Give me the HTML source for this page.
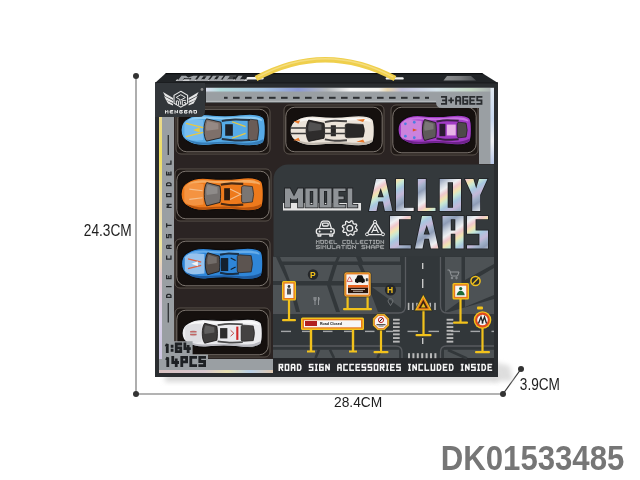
<!DOCTYPE html>
<html><head><meta charset="utf-8">
<style>
html,body{margin:0;padding:0;background:#fff;width:640px;height:480px;overflow:hidden}
svg{display:block;will-change:transform}
text{font-family:"Liberation Sans",sans-serif}
</style></head><body>
<svg width="640" height="480" viewBox="0 0 640 480">
<defs>
  <linearGradient id="holo" x1="0" y1="0" x2="1" y2="1">
    <stop offset="0" stop-color="#c9d3dc"/>
    <stop offset="0.25" stop-color="#e8c6d0"/>
    <stop offset="0.45" stop-color="#b8d6e6"/>
    <stop offset="0.65" stop-color="#eadfb8"/>
    <stop offset="0.85" stop-color="#a9c4d8"/>
    <stop offset="1" stop-color="#d8c8e0"/>
  </linearGradient>
  <linearGradient id="holoV" x1="0" y1="0" x2="0" y2="1">
    <stop offset="0" stop-color="#e8e0a0"/>
    <stop offset="0.3" stop-color="#e8c0c8"/>
    <stop offset="0.6" stop-color="#c0d8e8"/>
    <stop offset="1" stop-color="#e0c8b0"/>
  </linearGradient>
  <linearGradient id="shadowR" x1="0" y1="0" x2="1" y2="0">
    <stop offset="0" stop-color="#d8d8d8"/>
    <stop offset="1" stop-color="#ffffff"/>
  </linearGradient>
  <linearGradient id="shadowB" x1="0" y1="0" x2="0" y2="1">
    <stop offset="0" stop-color="#dcdcdc"/>
    <stop offset="1" stop-color="#ffffff"/>
  </linearGradient>
</defs>

<!-- dimension lines -->
<g stroke="#9a9a9a" stroke-width="1.6" fill="none">
  <line x1="136" y1="76" x2="136" y2="394"/>
  <line x1="136" y1="394" x2="503" y2="394"/>
</g>
<line x1="503" y1="394" x2="521" y2="369" stroke="#333" stroke-width="1.2"/>
<g fill="#333">
  <circle cx="136" cy="76" r="3"/>
  <circle cx="136" cy="394" r="3"/>
  <circle cx="503" cy="394" r="3"/>
  <circle cx="521" cy="369" r="3"/>
</g>
<g fill="#1e1e1e">
  <text x="83.8" y="235.5" font-size="15.6" textLength="48" lengthAdjust="spacingAndGlyphs">24.3CM</text>
  <text x="334" y="407.3" font-size="15" textLength="48.2" lengthAdjust="spacingAndGlyphs">28.4CM</text>
  <text x="519.8" y="390.2" font-size="15.6" textLength="40.2" lengthAdjust="spacingAndGlyphs">3.9CM</text>
</g>
<text x="440.8" y="469.6" font-size="35.2" font-weight="bold" fill="#767676" textLength="183.5" lengthAdjust="spacingAndGlyphs">DK01533485</text>

<!-- shadow -->
<filter id="blur3" x="-50%" y="-50%" width="200%" height="200%"><feGaussianBlur stdDeviation="2.5"/></filter>
<polygon points="494,362 510,366 513,381 494,381" fill="#dedede" filter="url(#blur3)"/>
<rect x="165" y="374" width="333" height="8" fill="#d8d8d8" filter="url(#blur3)"/>

<!-- lid -->
<polygon points="155,83 166,73 482,73 498,83" fill="#212427"/><polygon points="165,74.2 166.2,73 481.8,73 483.7,74.2" fill="#0c0e10"/>
<!-- front frame -->
<rect x="155" y="83" width="343" height="294" fill="#2a2d30"/><rect x="155" y="82.3" width="343" height="1.2" fill="#1a1c1e"/>

<!-- lid text + handle -->
<g transform="matrix(0.91 0 -0.18 0.235 -44.02 31.43)"><rect x="283" y="203" width="78" height="7.5" fill="#d0d2d4"/><path d="M285.00 188.40h5.00v19.00h-5.00ZM298.00 188.40h5.00v19.00h-5.00ZM285.00 188.40L290.00 188.40L294.00 196.38L298.00 188.40L303.00 188.40L303.00 191.00L296.50 199.42L291.50 199.42L285.00 191.00ZM305.40 188.40h12.20v19.00h-12.20ZM309.80 191.00v13.80h3.40v-13.80ZM319.60 188.40h11.90v19.00h-11.90ZM324.00 191.00v13.80h3.10v-13.80ZM333.30 188.40h5.20v19.00h-5.20ZM333.30 188.40h12.20v2.60h-12.20ZM333.30 196.60h10.37v2.60h-10.37ZM333.30 204.80h12.20v2.60h-12.20ZM347.70 188.40h4.60v19.00h-4.60ZM347.70 204.80h9.70v2.60h-9.70Z" fill="#9ea2a6" stroke="#202225" stroke-width="1.2" paint-order="stroke"/></g>
<rect x="246.6" y="77" width="17" height="2.4" rx="1.2" fill="#f4f4f4"/>
<rect x="385.7" y="77.2" width="18" height="2.4" rx="1.2" fill="#f4f4f4"/>
<linearGradient id="lidTab" x1="443" y1="0" x2="476" y2="0" gradientUnits="userSpaceOnUse"><stop offset="0" stop-color="#8e9092"/><stop offset="0.5" stop-color="#7a7c7e"/><stop offset="1" stop-color="#4e5154"/></linearGradient><polygon points="447,76 471,76 476,80.5 443.5,80.5" fill="url(#lidTab)"/>
<path d="M256 78.5 Q 325 41 395 78.5" stroke="#efcf4c" stroke-width="5.6" fill="none"/><path d="M258 77 Q 325 40.5 393 77" stroke="#f6e08a" stroke-width="1.4" fill="none" opacity="0.8"/>

<!-- tray -->
<rect x="174" y="103" width="320" height="256" fill="#2b2423"/>
<rect x="176" y="107" width="94" height="47" rx="5" fill="#1e1815" stroke="#5a524c" stroke-width="1"/><rect x="177.8" y="109.2" width="90.4" height="42.6" rx="9" fill="#15100e" stroke="#8a827c" stroke-width="0.9"/><rect x="284" y="105" width="100" height="49" rx="5" fill="#1e1815" stroke="#5a524c" stroke-width="1"/><rect x="285.8" y="107.2" width="96.4" height="44.6" rx="9" fill="#15100e" stroke="#8a827c" stroke-width="0.9"/><rect x="391" y="105" width="87" height="50" rx="5" fill="#1e1815" stroke="#5a524c" stroke-width="1"/><rect x="392.8" y="107.2" width="83.4" height="45.6" rx="9" fill="#15100e" stroke="#8a827c" stroke-width="0.9"/><rect x="175" y="169" width="96" height="52" rx="5" fill="#1e1815" stroke="#5a524c" stroke-width="1"/><rect x="176.8" y="171.2" width="92.4" height="47.6" rx="9" fill="#15100e" stroke="#8a827c" stroke-width="0.9"/><rect x="175" y="239" width="95" height="49" rx="5" fill="#1e1815" stroke="#5a524c" stroke-width="1"/><rect x="176.8" y="241.2" width="91.4" height="44.6" rx="9" fill="#15100e" stroke="#8a827c" stroke-width="0.9"/><rect x="175" y="308" width="95" height="49" rx="5" fill="#1e1815" stroke="#5a524c" stroke-width="1"/><rect x="176.8" y="310.2" width="91.4" height="44.6" rx="9" fill="#15100e" stroke="#8a827c" stroke-width="0.9"/><g transform="translate(181,113.5) scale(0.8500,0.8250)"><path d="M8 6 C2 9 0 14 0 20 C0 26 2 31 8 34 C14 38 22 39.5 32 38.5 C46 37 58 37 70 38.5 C82 40 92 39.5 97 35 C100 31 100 9 97 5 C92 0.5 82 0 70 1.5 C58 3 46 3 32 1.5 C22 0.5 14 2 8 6 Z" fill="#56aae6" stroke="#0e0c0c" stroke-width="1.2" vector-effect="non-scaling-stroke"/><path d="M6 30 C12 37 22 38.5 32 37.5 C46 36 58 36 70 37.5 C82 39 92 38.5 97 34 L97 31 C90 35 80 36 70 35 C58 34 46 34 32 35 C22 35.5 12 34 6 30 Z" fill="#2c6ea8" opacity="0.75"/><path d="M8 8 C14 4 22 3 32 4 C46 5 58 5 70 4 C82 3 90 3.5 95 7 L95 9 C88 6.5 80 6.5 70 7 C58 7.5 46 7.5 32 6.8 C22 6 14 7 8 10 Z" fill="#a8dcfa" opacity="0.7"/><path d="M4 12 C6 8 12 7 18 7 L26 8 L26 32 L18 33 C12 33 6 32 4 28 Z" fill="#7cc0ee" opacity="0.85"/><path d="M30 6.5 C26 12 26 28 30 33.5 L47 29.5 C48 24 48 16 47 10.5 Z" fill="#7e706a" stroke="#141212" stroke-width="0.8" vector-effect="non-scaling-stroke"/><path d="M31 9 C29 14 29 18 30 21 L44 19 L44 12 Z" fill="#ffffff" opacity="0.18"/><rect x="52" y="13" width="9" height="14" fill="#1c2028"/><path d="M79 9 Q79 7 82 7 L90 8 Q93 20 90 32 L82 33 Q79 33 79 31 Z" fill="#6a5c56" stroke="#141212" stroke-width="0.6" vector-effect="non-scaling-stroke"/><path d="M48 9 C63.0 7 63.0 7 81 8" stroke="#1c2028" stroke-width="2.4" fill="none" opacity="0.85"/><path d="M48 31 C63.0 33 63.0 33 81 32" stroke="#1c2028" stroke-width="2.4" fill="none" opacity="0.85"/><path d="M6 12 L26 17 M6 28 L26 23 M60 10 L76 16 M60 30 L76 24" stroke="#e8c840" stroke-width="1.6"/><path d="M14 20 L22 17 L22 23 Z" fill="#e8c840"/></g><g transform="translate(290,115) scale(0.8500,0.7875)"><path d="M8 6 C2 9 0 14 0 20 C0 26 2 31 8 34 C14 38 22 39.5 32 38.5 C46 37 58 37 70 38.5 C82 40 92 39.5 97 35 C100 31 100 9 97 5 C92 0.5 82 0 70 1.5 C58 3 46 3 32 1.5 C22 0.5 14 2 8 6 Z" fill="#ece4da" stroke="#0e0c0c" stroke-width="1.2" vector-effect="non-scaling-stroke"/><path d="M6 30 C12 37 22 38.5 32 37.5 C46 36 58 36 70 37.5 C82 39 92 38.5 97 34 L97 31 C90 35 80 36 70 35 C58 34 46 34 32 35 C22 35.5 12 34 6 30 Z" fill="#b0a89e" opacity="0.75"/><path d="M8 8 C14 4 22 3 32 4 C46 5 58 5 70 4 C82 3 90 3.5 95 7 L95 9 C88 6.5 80 6.5 70 7 C58 7.5 46 7.5 32 6.8 C22 6 14 7 8 10 Z" fill="#ffffff" opacity="0.7"/><path d="M22 6.5 C18 12 18 28 22 33.5 L40 29.5 C41 24 41 16 40 10.5 Z" fill="#2e2c2c" stroke="#141212" stroke-width="0.8" vector-effect="non-scaling-stroke"/><path d="M23 9 C21 14 21 18 22 21 L37 19 L37 12 Z" fill="#ffffff" opacity="0.18"/><rect x="48" y="13" width="6" height="14" fill="#2a2828"/><path d="M65 13 Q65 11 68 11 L86 12 Q89 20 86 28 L68 29 Q65 29 65 27 Z" fill="#2a2828" stroke="#141212" stroke-width="0.6" vector-effect="non-scaling-stroke"/><path d="M41 9 C52.5 7 52.5 7 67 8" stroke="#2a2828" stroke-width="2.4" fill="none" opacity="0.85"/><path d="M41 31 C52.5 33 52.5 33 67 32" stroke="#2a2828" stroke-width="2.4" fill="none" opacity="0.85"/><path d="M0 16.5 H20 M0 23.5 H20 M40 16.5 H65 M40 23.5 H65" stroke="#3a3838" stroke-width="2"/><path d="M4 8 L12 7 L10 11 Z M4 32 L12 33 L10 29 Z M78 6 L88 5 L86 9 Z M78 34 L88 35 L86 31 Z" fill="#e8782a"/></g><g transform="translate(398,114.5) scale(0.7400,0.7750)"><path d="M8 6 C2 9 0 14 0 20 C0 26 2 31 8 34 C14 38 22 39.5 32 38.5 C46 37 58 37 70 38.5 C82 40 92 39.5 97 35 C100 31 100 9 97 5 C92 0.5 82 0 70 1.5 C58 3 46 3 32 1.5 C22 0.5 14 2 8 6 Z" fill="#a23cc6" stroke="#0e0c0c" stroke-width="1.2" vector-effect="non-scaling-stroke"/><path d="M6 30 C12 37 22 38.5 32 37.5 C46 36 58 36 70 37.5 C82 39 92 38.5 97 34 L97 31 C90 35 80 36 70 35 C58 34 46 34 32 35 C22 35.5 12 34 6 30 Z" fill="#5e1a78" opacity="0.75"/><path d="M8 8 C14 4 22 3 32 4 C46 5 58 5 70 4 C82 3 90 3.5 95 7 L95 9 C88 6.5 80 6.5 70 7 C58 7.5 46 7.5 32 6.8 C22 6 14 7 8 10 Z" fill="#d88aee" opacity="0.7"/><path d="M4 12 C6 8 12 7 18 7 L32 8 L32 32 L18 33 C12 33 6 32 4 28 Z" fill="#d48ee0" opacity="0.85"/><path d="M36 6.5 C32 12 32 28 36 33.5 L51 29.5 C52 24 52 16 51 10.5 Z" fill="#5e5a5a" stroke="#141212" stroke-width="0.8" vector-effect="non-scaling-stroke"/><path d="M37 9 C35 14 35 18 36 21 L48 19 L48 12 Z" fill="#ffffff" opacity="0.18"/><rect x="56" y="12" width="8" height="16" fill="#2a1a30"/><path d="M80 12 Q80 10 83 10 L92 11 Q95 20 92 29 L83 30 Q80 30 80 28 Z" fill="#4e4a4a" stroke="#141212" stroke-width="0.6" vector-effect="non-scaling-stroke"/><path d="M52 9 C65.5 7 65.5 7 82 8" stroke="#2a1a30" stroke-width="2.4" fill="none" opacity="0.85"/><path d="M52 31 C65.5 33 65.5 33 82 32" stroke="#2a1a30" stroke-width="2.4" fill="none" opacity="0.85"/><rect x="66" y="13" width="12" height="14" fill="#e8b4e8"/><circle cx="10" cy="12" r="1.8" fill="#4a80e0"/><circle cx="10" cy="28" r="1.8" fill="#4a80e0"/><circle cx="22" cy="10" r="1.8" fill="#4a80e0"/><circle cx="22" cy="30" r="1.8" fill="#4a80e0"/><path d="M20 18 L26 20 L20 22 Z" fill="#e05020"/></g><g transform="translate(181,177) scale(0.8300,0.8625)"><path d="M8 6 C2 9 0 14 0 20 C0 26 2 31 8 34 C14 38 22 39.5 32 38.5 C46 37 58 37 70 38.5 C82 40 92 39.5 97 35 C100 31 100 9 97 5 C92 0.5 82 0 70 1.5 C58 3 46 3 32 1.5 C22 0.5 14 2 8 6 Z" fill="#ee7a1c" stroke="#0e0c0c" stroke-width="1.2" vector-effect="non-scaling-stroke"/><path d="M6 30 C12 37 22 38.5 32 37.5 C46 36 58 36 70 37.5 C82 39 92 38.5 97 34 L97 31 C90 35 80 36 70 35 C58 34 46 34 32 35 C22 35.5 12 34 6 30 Z" fill="#a84808" opacity="0.75"/><path d="M8 8 C14 4 22 3 32 4 C46 5 58 5 70 4 C82 3 90 3.5 95 7 L95 9 C88 6.5 80 6.5 70 7 C58 7.5 46 7.5 32 6.8 C22 6 14 7 8 10 Z" fill="#f8c080" opacity="0.7"/><path d="M4 12 C6 8 12 7 18 7 L27 8 L27 32 L18 33 C12 33 6 32 4 28 Z" fill="#f49848" opacity="0.85"/><path d="M31 6.5 C27 12 27 28 31 33.5 L47 29.5 C48 24 48 16 47 10.5 Z" fill="#767270" stroke="#141212" stroke-width="0.8" vector-effect="non-scaling-stroke"/><path d="M32 9 C30 14 30 18 31 21 L44 19 L44 12 Z" fill="#ffffff" opacity="0.18"/><rect x="52" y="13" width="7" height="14" fill="#2a1a10"/><path d="M73 12 Q73 10 76 10 L86 11 Q89 20 86 29 L76 30 Q73 30 73 28 Z" fill="#7a7674" stroke="#141212" stroke-width="0.6" vector-effect="non-scaling-stroke"/><path d="M48 9 C60.0 7 60.0 7 75 8" stroke="#2a1a10" stroke-width="2.4" fill="none" opacity="0.85"/><path d="M48 31 C60.0 33 60.0 33 75 32" stroke="#2a1a10" stroke-width="2.4" fill="none" opacity="0.85"/><path d="M59 14 L72 20 L59 26 M10 14 L26 16 M10 26 L26 24" stroke="#f4c090" stroke-width="1.3" fill="none"/></g><g transform="translate(181.5,247.5) scale(0.8200,0.8125)"><path d="M8 6 C2 9 0 14 0 20 C0 26 2 31 8 34 C14 38 22 39.5 32 38.5 C46 37 58 37 70 38.5 C82 40 92 39.5 97 35 C100 31 100 9 97 5 C92 0.5 82 0 70 1.5 C58 3 46 3 32 1.5 C22 0.5 14 2 8 6 Z" fill="#2f86d8" stroke="#0e0c0c" stroke-width="1.2" vector-effect="non-scaling-stroke"/><path d="M6 30 C12 37 22 38.5 32 37.5 C46 36 58 36 70 37.5 C82 39 92 38.5 97 34 L97 31 C90 35 80 36 70 35 C58 34 46 34 32 35 C22 35.5 12 34 6 30 Z" fill="#1a4e90" opacity="0.75"/><path d="M8 8 C14 4 22 3 32 4 C46 5 58 5 70 4 C82 3 90 3.5 95 7 L95 9 C88 6.5 80 6.5 70 7 C58 7.5 46 7.5 32 6.8 C22 6 14 7 8 10 Z" fill="#7cbcf2" opacity="0.7"/><path d="M4 12 C6 8 12 7 18 7 L28 8 L28 32 L18 33 C12 33 6 32 4 28 Z" fill="#a8cdf0" opacity="0.85"/><path d="M32 6.5 C28 12 28 28 32 33.5 L46 29.5 C47 24 47 16 46 10.5 Z" fill="#544c48" stroke="#141212" stroke-width="0.8" vector-effect="non-scaling-stroke"/><path d="M33 9 C31 14 31 18 32 21 L43 19 L43 12 Z" fill="#ffffff" opacity="0.18"/><rect x="48" y="13" width="9" height="16" fill="#14202e"/><path d="M68 11 Q68 9 71 9 L85 10 Q88 20 85 30 L71 31 Q68 31 68 29 Z" fill="#5c5450" stroke="#141212" stroke-width="0.6" vector-effect="non-scaling-stroke"/><path d="M47 9 C57.0 7 57.0 7 70 8" stroke="#14202e" stroke-width="2.4" fill="none" opacity="0.85"/><path d="M47 31 C57.0 33 57.0 33 70 32" stroke="#14202e" stroke-width="2.4" fill="none" opacity="0.85"/><path d="M8 14 L24 18 M8 26 L24 22" stroke="#e06040" stroke-width="1.4"/><path d="M12 20 L20 17 L20 23 Z" fill="#f4f4f4"/><path d="M60 13 L66 16 M60 27 L66 24" stroke="#14202e" stroke-width="1.5"/></g><g transform="translate(182,318.5) scale(0.8100,0.7375)"><path d="M8 6 C2 9 0 14 0 20 C0 26 2 31 8 34 C14 38 22 39.5 32 38.5 C46 37 58 37 70 38.5 C82 40 92 39.5 97 35 C100 31 100 9 97 5 C92 0.5 82 0 70 1.5 C58 3 46 3 32 1.5 C22 0.5 14 2 8 6 Z" fill="#ebebee" stroke="#0e0c0c" stroke-width="1.2" vector-effect="non-scaling-stroke"/><path d="M6 30 C12 37 22 38.5 32 37.5 C46 36 58 36 70 37.5 C82 39 92 38.5 97 34 L97 31 C90 35 80 36 70 35 C58 34 46 34 32 35 C22 35.5 12 34 6 30 Z" fill="#a8a8b0" opacity="0.75"/><path d="M8 8 C14 4 22 3 32 4 C46 5 58 5 70 4 C82 3 90 3.5 95 7 L95 9 C88 6.5 80 6.5 70 7 C58 7.5 46 7.5 32 6.8 C22 6 14 7 8 10 Z" fill="#ffffff" opacity="0.7"/><path d="M4 12 C6 8 12 7 18 7 L24 8 L24 32 L18 33 C12 33 6 32 4 28 Z" fill="#dcdcdf" opacity="0.85"/><path d="M28 6.5 C24 12 24 28 28 33.5 L43 29.5 C44 24 44 16 43 10.5 Z" fill="#3e3c3c" stroke="#141212" stroke-width="0.8" vector-effect="non-scaling-stroke"/><path d="M29 9 C27 14 27 18 28 21 L40 19 L40 12 Z" fill="#ffffff" opacity="0.18"/><rect x="47" y="13" width="9" height="14" fill="#2e2e2e"/><path d="M73 11 Q73 9 76 9 L88 10 Q91 20 88 30 L76 31 Q73 31 73 29 Z" fill="#444242" stroke="#141212" stroke-width="0.6" vector-effect="non-scaling-stroke"/><path d="M44 9 C58.0 7 58.0 7 75 8" stroke="#2e2e2e" stroke-width="2.4" fill="none" opacity="0.85"/><path d="M44 31 C58.0 33 58.0 33 75 32" stroke="#2e2e2e" stroke-width="2.4" fill="none" opacity="0.85"/><circle cx="14" cy="20" r="4" fill="#c8c0c0"/><path d="M10 18 h8 M10 22 h8" stroke="#c04040" stroke-width="1.2"/><rect x="67" y="11" width="2.6" height="18" fill="#d02828"/><path d="M60 16 L64 20 L60 24" stroke="#c04040" stroke-width="1.2" fill="none"/></g>
<!-- silver strips -->
<linearGradient id="bandTop" x1="206" y1="0" x2="494" y2="0" gradientUnits="userSpaceOnUse">
  <stop offset="0" stop-color="#dcdff0"/>
  <stop offset="0.05" stop-color="#b0dcdc"/>
  <stop offset="0.2" stop-color="#a6c4e2"/>
  <stop offset="0.32" stop-color="#8a98d4"/>
  <stop offset="0.42" stop-color="#b4b8bc"/>
  <stop offset="0.5" stop-color="#f6f6f6"/>
  <stop offset="0.6" stop-color="#f2f2f0"/>
  <stop offset="0.63" stop-color="#ead8b0"/>
  <stop offset="0.68" stop-color="#c0c0dc"/>
  <stop offset="0.8" stop-color="#d4e2ea"/>
  <stop offset="0.92" stop-color="#c4dac4"/>
  <stop offset="1" stop-color="#a8acb0"/>
</linearGradient>
<linearGradient id="fadeV" x1="0" y1="0" x2="0" y2="1">
  <stop offset="0" stop-color="#fff" stop-opacity="1"/>
  <stop offset="0.55" stop-color="#fff" stop-opacity="1"/>
  <stop offset="1" stop-color="#fff" stop-opacity="0"/>
</linearGradient>
<mask id="fadeMask"><rect x="206" y="87.7" width="288" height="5" fill="url(#fadeV)"/></mask>
<linearGradient id="edgeL" x1="0" y1="117" x2="0" y2="373" gradientUnits="userSpaceOnUse">
  <stop offset="0" stop-color="#e8d890"/>
  <stop offset="0.15" stop-color="#f0e060"/>
  <stop offset="0.35" stop-color="#e8d8b0"/>
  <stop offset="0.5" stop-color="#f0e8a0"/>
  <stop offset="0.62" stop-color="#e0c8d0"/>
  <stop offset="0.8" stop-color="#d8d0e8"/>
  <stop offset="1" stop-color="#c8c0e0"/>
</linearGradient>
<linearGradient id="edgeB" x1="159" y1="0" x2="273" y2="0" gradientUnits="userSpaceOnUse">
  <stop offset="0" stop-color="#d8c0c0"/>
  <stop offset="0.4" stop-color="#d8c8d0"/>
  <stop offset="0.6" stop-color="#e8e0b0"/>
  <stop offset="0.8" stop-color="#b8d0e8"/>
  <stop offset="1" stop-color="#e0c8b0"/>
</linearGradient>
<linearGradient id="edgeR" x1="0" y1="88" x2="0" y2="164" gradientUnits="userSpaceOnUse">
  <stop offset="0" stop-color="#e0e8f0"/>
  <stop offset="0.4" stop-color="#c8d8f0"/>
  <stop offset="0.7" stop-color="#f0f0f4"/>
  <stop offset="1" stop-color="#b8c8e8"/>
</linearGradient>
<rect x="206" y="87.7" width="288" height="14.6" fill="#9a9fa3"/>
<rect x="206" y="87.7" width="288" height="5" fill="url(#bandTop)" mask="url(#fadeMask)"/>
<rect x="206" y="100.8" width="230" height="1.4" fill="#b4b8bb"/>
<path d="M436 100 H494 V108 H442 Q436 108 436 102 Z" fill="#9a9fa3"/>
<rect x="479" y="92" width="15" height="72" fill="#9a9fa3"/>
<rect x="490.5" y="88" width="3.5" height="76" fill="url(#edgeR)"/>
<rect x="159" y="117" width="15" height="256" fill="#9a9fa3"/>
<rect x="159" y="117" width="3" height="256" fill="url(#edgeL)"/>
<rect x="159" y="359" width="114" height="14" fill="#9a9fa3"/>
<rect x="159" y="370" width="114" height="3" fill="url(#edgeB)"/>
<path d="M162.5 341.2 H192.6 V354.4 H208 V362 H162.5 Z" fill="#9a9fa3"/>
<g fill="#2c2f32">
<rect x="224" y="96.8" width="3.6" height="2"/><rect x="233" y="96.8" width="6.6" height="2"/><rect x="245" y="96.8" width="6.6" height="2"/><rect x="257" y="96.8" width="6.6" height="2"/><rect x="269" y="96.8" width="6.6" height="2"/><rect x="281" y="96.8" width="6.6" height="2"/><rect x="293" y="96.8" width="6.6" height="2"/><rect x="305" y="96.8" width="6.6" height="2"/><rect x="317" y="96.8" width="6.6" height="2"/><rect x="329" y="96.8" width="6.6" height="2"/><rect x="341" y="96.8" width="6.6" height="2"/><rect x="353" y="96.8" width="6.6" height="2"/><rect x="365" y="96.8" width="6.6" height="2"/><rect x="377" y="96.8" width="6.6" height="2"/><rect x="389" y="96.8" width="6.6" height="2"/><rect x="401" y="96.8" width="6.6" height="2"/><rect x="413" y="96.8" width="6.6" height="2"/><rect x="425" y="96.8" width="4" height="2"/>
</g>
<path d="M441.90 96.90 L446.17 96.90 L446.17 103.80 L441.90 103.80 M442.97 100.35 L446.17 100.35 M451.10 98.28 L451.10 102.42 M449.18 100.35 L453.02 100.35 M456.03 103.80 L456.03 97.94 L456.67 96.90 L459.66 96.90 L460.30 97.94 L460.30 103.80 M456.03 100.70 L460.30 100.70 M467.37 96.90 L463.10 96.90 L463.10 103.80 L467.37 103.80 L467.37 100.35 L465.23 100.35 M474.43 96.90 L470.17 96.90 L470.17 103.80 L474.43 103.80 M470.17 100.35 L473.58 100.35 M481.50 96.90 L477.23 96.90 L477.23 100.35 L481.50 100.35 L481.50 103.80 L477.23 103.80" fill="none" stroke="#2a2d30" stroke-width="1.8" stroke-linecap="square" stroke-linejoin="miter" stroke-miterlimit="2"/>

<!-- logo area -->
<path d="M155 83 H205 V111 Q205 117 199 117 H155 Z" fill="#32363a"/>

<!-- dark panel -->
<path d="M288 164.5 H494 V358 H273.5 V179 A14.5 14.5 0 0 1 288 164.5 Z" fill="#34393c"/>
<rect x="273" y="358" width="221" height="15" fill="#26282b"/>
<path d="M279.25 370.25 L279.25 364.45 L282.55 364.45 L282.55 367.35 L279.25 367.35 M280.73 367.35 L282.55 370.25 M285.35 364.45 L288.64 364.45 L288.64 370.25 L285.35 370.25 L285.35 364.45 M291.44 370.25 L291.44 365.32 L291.94 364.45 L294.24 364.45 L294.74 365.32 L294.74 370.25 M291.44 367.64 L294.74 367.64 M297.54 364.45 L299.85 364.45 L300.83 365.90 L300.83 368.80 L299.85 370.25 L297.54 370.25 L297.54 364.45 M312.79 364.45 L309.49 364.45 L309.49 367.35 L312.79 367.35 L312.79 370.25 L309.49 370.25 M315.59 364.45 L316.96 364.45 M316.27 364.45 L316.27 370.25 M315.59 370.25 L316.96 370.25 M323.06 364.45 L319.76 364.45 L319.76 370.25 L323.06 370.25 L323.06 367.35 L321.41 367.35 M325.86 370.25 L325.86 364.45 L329.16 370.25 L329.16 364.45 M337.81 370.25 L337.81 365.32 L338.31 364.45 L340.61 364.45 L341.11 365.32 L341.11 370.25 M337.81 367.64 L341.11 367.64 M347.20 364.45 L343.91 364.45 L343.91 370.25 L347.20 370.25 M353.30 364.45 L350.00 364.45 L350.00 370.25 L353.30 370.25 M359.40 364.45 L356.10 364.45 L356.10 370.25 L359.40 370.25 M356.10 367.35 L358.74 367.35 M365.49 364.45 L362.20 364.45 L362.20 367.35 L365.49 367.35 L365.49 370.25 L362.20 370.25 M371.59 364.45 L368.29 364.45 L368.29 367.35 L371.59 367.35 L371.59 370.25 L368.29 370.25 M374.39 364.45 L377.68 364.45 L377.68 370.25 L374.39 370.25 L374.39 364.45 M380.48 370.25 L380.48 364.45 L383.78 364.45 L383.78 367.35 L380.48 367.35 M381.97 367.35 L383.78 370.25 M386.58 364.45 L387.96 364.45 M387.27 364.45 L387.27 370.25 M386.58 370.25 L387.96 370.25 M394.05 364.45 L390.76 364.45 L390.76 370.25 L394.05 370.25 M390.76 367.35 L393.39 367.35 M400.15 364.45 L396.85 364.45 L396.85 367.35 L400.15 367.35 L400.15 370.25 L396.85 370.25 M408.81 364.45 L410.18 364.45 M409.49 364.45 L409.49 370.25 M408.81 370.25 L410.18 370.25 M412.98 370.25 L412.98 364.45 L416.28 370.25 L416.28 364.45 M422.37 364.45 L419.08 364.45 L419.08 370.25 L422.37 370.25 M425.17 364.45 L425.17 370.25 L428.47 370.25 M431.27 364.45 L431.27 370.25 L434.57 370.25 L434.57 364.45 M437.37 364.45 L439.67 364.45 L440.66 365.90 L440.66 368.80 L439.67 370.25 L437.37 370.25 L437.37 364.45 M446.76 364.45 L443.46 364.45 L443.46 370.25 L446.76 370.25 M443.46 367.35 L446.10 367.35 M449.56 364.45 L451.87 364.45 L452.85 365.90 L452.85 368.80 L451.87 370.25 L449.56 370.25 L449.56 364.45 M461.51 364.45 L462.89 364.45 M462.20 364.45 L462.20 370.25 M461.51 370.25 L462.89 370.25 M465.69 370.25 L465.69 364.45 L468.98 370.25 L468.98 364.45 M475.08 364.45 L471.78 364.45 L471.78 367.35 L475.08 367.35 L475.08 370.25 L471.78 370.25 M477.88 364.45 L479.26 364.45 M478.57 364.45 L478.57 370.25 M477.88 370.25 L479.26 370.25 M482.06 364.45 L484.37 364.45 L485.35 365.90 L485.35 368.80 L484.37 370.25 L482.06 370.25 L482.06 364.45 M491.45 364.45 L488.15 364.45 L488.15 370.25 L491.45 370.25 M488.15 367.35 L490.79 367.35" fill="none" stroke="#f4f4f4" stroke-width="1.5" stroke-linecap="square" stroke-linejoin="miter" stroke-miterlimit="2"/>

<defs>
<linearGradient id="holoT" x1="0" y1="0" x2="1" y2="0.35">
  <stop offset="0" stop-color="#b8c4d0"/>
  <stop offset="0.12" stop-color="#e8eef2"/>
  <stop offset="0.22" stop-color="#b0bccc"/>
  <stop offset="0.32" stop-color="#f0d0c8"/>
  <stop offset="0.42" stop-color="#c8d8e8"/>
  <stop offset="0.52" stop-color="#eae0b8"/>
  <stop offset="0.62" stop-color="#d0b8d8"/>
  <stop offset="0.72" stop-color="#98b8d0"/>
  <stop offset="0.82" stop-color="#f0c8b8"/>
  <stop offset="0.92" stop-color="#a8c8d8"/>
  <stop offset="1" stop-color="#c0d0e0"/>
</linearGradient>
</defs>
<linearGradient id="holoB" gradientUnits="userSpaceOnUse" x1="370" y1="176" x2="392" y2="210" spreadMethod="repeat">
  <stop offset="0" stop-color="#8e9cb6"/>
  <stop offset="0.14" stop-color="#c8d0dc"/>
  <stop offset="0.26" stop-color="#eef0f2"/>
  <stop offset="0.36" stop-color="#f0c8cc"/>
  <stop offset="0.46" stop-color="#f2e4b0"/>
  <stop offset="0.55" stop-color="#c8e8d4"/>
  <stop offset="0.66" stop-color="#a8c8e0"/>
  <stop offset="0.8" stop-color="#c4b8d8"/>
  <stop offset="0.9" stop-color="#a0b0c8"/>
  <stop offset="1" stop-color="#8e9cb6"/>
</linearGradient>
<rect x="283" y="203" width="78" height="7.5" fill="#e4e4e4"/>
<path d="M285.00 188.40h5.00v19.00h-5.00ZM298.00 188.40h5.00v19.00h-5.00ZM285.00 188.40L290.00 188.40L294.00 196.38L298.00 188.40L303.00 188.40L303.00 191.00L296.50 199.42L291.50 199.42L285.00 191.00ZM305.40 188.40h12.20v19.00h-12.20ZM309.80 191.00v13.80h3.40v-13.80ZM319.60 188.40h11.90v19.00h-11.90ZM324.00 191.00v13.80h3.10v-13.80ZM333.30 188.40h5.20v19.00h-5.20ZM333.30 188.40h12.20v2.60h-12.20ZM333.30 196.60h10.37v2.60h-10.37ZM333.30 204.80h12.20v2.60h-12.20ZM347.70 188.40h4.60v19.00h-4.60ZM347.70 204.80h9.70v2.60h-9.70Z" fill="#8f9397" stroke="#202225" stroke-width="1.6" paint-order="stroke"/>
<path d="M369.00 211.00L376.02 179.00L385.38 179.00L392.40 211.00L384.90 211.00L382.93 201.40L378.47 201.40L376.50 211.00ZM380.70 187.96L377.66 197.24L383.74 197.24ZM396.00 179.00h8.00v32.00h-8.00ZM396.00 207.80h17.70v3.20h-17.70ZM417.80 179.00h8.00v32.00h-8.00ZM417.80 207.80h17.70v3.20h-17.70ZM439.70 179.00h21.30v32.00h-21.30ZM447.70 182.20v25.60h5.30v-25.60ZM465.00 179.00L473.40 179.00L476.20 188.60L479.00 179.00L487.40 179.00L480.20 195.00L480.20 211.00L472.20 211.00L472.20 195.00ZM390.00 216.00h9.00v32.50h-9.00ZM390.00 216.00h20.80v3.20h-20.80ZM390.00 245.30h20.80v3.20h-20.80ZM415.00 248.50L422.02 216.00L431.38 216.00L438.40 248.50L430.90 248.50L428.93 238.75L424.47 238.75L422.50 248.50ZM426.70 225.10L423.66 234.53L429.74 234.53ZM442.50 216.00h8.30v32.50h-8.30ZM442.50 216.00h21.10v3.20h-21.10ZM455.30 216.00h8.30v32.50h-8.30ZM442.50 230.62h21.10v3.20h-21.10ZM467.00 216.00h21.00v3.20h-21.00ZM467.00 216.00h8.60v17.82h-8.60ZM467.00 230.62h21.00v3.20h-21.00ZM479.40 230.62h8.60v17.88h-8.60ZM467.00 245.30h21.00v3.20h-21.00Z" fill="url(#holoB)" stroke="#1e2023" stroke-width="1.6" paint-order="stroke"/>
<g stroke="#ececec" stroke-width="1.3" fill="none" stroke-linejoin="round">
  <path d="M319.3 228.6 L321.2 222.6 Q321.7 221.2 323.2 221.2 H327.6 Q329.1 221.2 329.6 222.6 L331.5 228.6"/>
  <rect x="316.3" y="228.6" width="18" height="5.6" rx="2.6"/>
  <rect x="322.6" y="223.2" width="5.6" height="2.8" rx="0.8"/>
  <path d="M318 234.2 v1.8 h2.8 v-1.8 M329.8 234.2 v1.8 h2.8 v-1.8"/>
  <path d="M355.70 228.20 L357.25 229.68 L356.82 231.11 L354.71 231.48 L353.97 232.37 L354.02 234.52 L352.71 235.22 L350.95 233.99 L349.80 234.10 L348.32 235.65 L346.89 235.22 L346.52 233.11 L345.63 232.37 L343.48 232.42 L342.78 231.11 L344.01 229.35 L343.90 228.20 L342.35 226.72 L342.78 225.29 L344.89 224.92 L345.63 224.03 L345.58 221.88 L346.89 221.18 L348.65 222.41 L349.80 222.30 L351.28 220.75 L352.71 221.18 L353.08 223.29 L353.97 224.03 L356.12 223.98 L356.82 225.29 L355.59 227.05Z"/>
  <circle cx="349.8" cy="228.2" r="2.9"/>
  <path d="M375 221.5 L383.4 234.6 H366.6 Z" stroke-width="1.4"/>
  <path d="M371.6 233 L375 225.5 L378.4 233 M372.8 230.4 H377.2" stroke-width="1.1"/>
</g>
<g fill="#34393c" stroke="#ececec" stroke-width="1">
  <circle cx="375" cy="221.8" r="1.5"/><circle cx="367" cy="234.3" r="1.5"/><circle cx="383" cy="234.3" r="1.5"/>
</g>
<g fill="#ececec"><circle cx="319.6" cy="231.4" r="1"/><circle cx="331" cy="231.4" r="1"/></g>
<path d="M316.40 243.60 L316.40 240.40 L317.75 241.84 L319.09 240.40 L319.09 243.60 M320.79 240.40 L323.49 240.40 L323.49 243.60 L320.79 243.60 L320.79 240.40 M325.19 240.40 L327.07 240.40 L327.88 241.20 L327.88 242.80 L327.07 243.60 L325.19 243.60 L325.19 240.40 M332.27 240.40 L329.58 240.40 L329.58 243.60 L332.27 243.60 M329.58 242.00 L331.74 242.00 M333.97 240.40 L333.97 243.60 L336.67 243.60 M345.46 240.40 L342.76 240.40 L342.76 243.60 L345.46 243.60 M347.16 240.40 L349.85 240.40 L349.85 243.60 L347.16 243.60 L347.16 240.40 M351.55 240.40 L351.55 243.60 L354.24 243.60 M355.94 240.40 L355.94 243.60 L358.64 243.60 M363.03 240.40 L360.34 240.40 L360.34 243.60 L363.03 243.60 M360.34 242.00 L362.49 242.00 M367.42 240.40 L364.73 240.40 L364.73 243.60 L367.42 243.60 M369.12 240.40 L371.82 240.40 M370.47 240.40 L370.47 243.60 M373.52 240.40 L374.81 240.40 M374.16 240.40 L374.16 243.60 M373.52 243.60 L374.81 243.60 M376.51 240.40 L379.21 240.40 L379.21 243.60 L376.51 243.60 L376.51 240.40 M380.91 243.60 L380.91 240.40 L383.60 243.60 L383.60 240.40" fill="none" stroke="#b4b6b8" stroke-width="0.8" stroke-linecap="square" stroke-linejoin="miter" stroke-miterlimit="2"/>
<path d="M319.38 245.40 L316.40 245.40 L316.40 247.00 L319.38 247.00 L319.38 248.60 L316.40 248.60 M321.08 245.40 L321.08 248.60 M322.79 248.60 L322.79 245.40 L324.28 246.84 L325.77 245.40 L325.77 248.60 M327.47 245.40 L327.47 248.60 L330.45 248.60 L330.45 245.40 M332.15 245.40 L332.15 248.60 L335.12 248.60 M336.82 248.60 L336.82 245.88 L337.27 245.40 L339.36 245.40 L339.80 245.88 L339.80 248.60 M336.82 247.16 L339.80 247.16 M341.50 245.40 L344.48 245.40 M342.99 245.40 L342.99 248.60 M346.19 245.40 L346.19 248.60 M347.89 245.40 L350.87 245.40 L350.87 248.60 L347.89 248.60 L347.89 245.40 M352.57 248.60 L352.57 245.40 L355.55 248.60 L355.55 245.40 M364.91 245.40 L361.93 245.40 L361.93 247.00 L364.91 247.00 L364.91 248.60 L361.93 248.60 M366.61 245.40 L366.61 248.60 M369.58 245.40 L369.58 248.60 M366.61 247.00 L369.58 247.00 M371.28 248.60 L371.28 245.88 L371.73 245.40 L373.82 245.40 L374.26 245.88 L374.26 248.60 M371.28 247.16 L374.26 247.16 M375.96 248.60 L375.96 245.40 L378.94 245.40 L378.94 247.16 L375.96 247.16 M383.62 245.40 L380.64 245.40 L380.64 248.60 L383.62 248.60 M380.64 247.00 L383.02 247.00" fill="none" stroke="#b4b6b8" stroke-width="0.8" stroke-linecap="square" stroke-linejoin="miter" stroke-miterlimit="2"/>

<g>
<rect x="273" y="256" width="221" height="102" fill="#32373a"/>
<g fill="#4d5255">
  <polygon points="273,257 276,257 287,281 273,281"/>
  <polygon points="280,257 337,257 335,261.5 282,261.5"/>
  <polygon points="340,257 356,257 358,261.5 338,261.5"/>
  <polygon points="361,257 400,257 400,261.5 363,261.5"/>
  <polygon points="284,265 333,265 328,281 290,281"/>
  <polygon points="337,265 358,265 366,281 332,281"/>
  <polygon points="362,265 401,265 401,283 370,283"/>
  <polygon points="273,285 289,285 296,312 273,312"/>
  <polygon points="293,285.5 327,285.5 336,312 300,312"/>
  <polygon points="331,285.5 368,285.5 378,312 340,312"/>
  <polygon points="372,287 401,287 401,308 Q401 312 397 312 H382 Z"/>
  <polygon points="445,257 461.5,257 461.5,300 445,312"/>
  <polygon points="465,257 494,257 494,264 465,280"/>
  <polygon points="465,285 494,268 494,295 465,307"/>
  <polygon points="449,312 494,299 494,312"/>
  <path d="M273 349.8 H399 V358 H273 Z"/>
  <path d="M494 349.8 H444 V358 H494 Z"/>
</g>
<g fill="none" stroke="#585b5f" stroke-width="1.3">
  <path d="M405.5 257 V306 Q405.5 313 398.5 313 H273"/>
  <path d="M440.5 257 V306 Q440.5 313 447.5 313 H494"/>
  <path d="M273 346 H396 Q402 346 402 352 V358"/>
  <path d="M494 346 H446.5 Q440.5 346 440.5 352 V358"/>
</g>
<g stroke="#32373a" stroke-width="2.6" fill="none">
  <path d="M319 349.8 L315.5 358 M330 349.8 L334 358 M381 349.8 L377.5 358 M448 350 L467 358.5"/>
</g>
<g fill="#c8c8c8">
  <rect x="422" y="263" width="1.4" height="6"/>
  <rect x="422" y="279" width="1.4" height="9"/>
  <rect x="422" y="338" width="1.4" height="6"/>
  <rect x="281" y="330.7" width="10" height="1.4" fill="#a4a6a8"/>
  <rect x="302" y="330.7" width="9.5" height="1.4" fill="#a4a6a8"/>
  <rect x="323" y="330.7" width="9.5" height="1.4" fill="#a4a6a8"/>
  <rect x="344" y="330.7" width="9.5" height="1.4" fill="#a4a6a8"/>
  <rect x="365" y="330.7" width="9.5" height="1.4" fill="#a4a6a8"/>
  <rect x="386" y="330.7" width="7" height="1.4" fill="#a4a6a8"/>
  <rect x="407.5" y="330.7" width="10.5" height="1.4" fill="#a4a6a8"/>
  <rect x="428.5" y="330.7" width="10.5" height="1.4" fill="#a4a6a8"/>
  <rect x="451" y="330.7" width="9" height="1.4" fill="#a4a6a8"/>
  <rect x="470.5" y="330.7" width="9.5" height="1.4" fill="#a4a6a8"/>
  <rect x="491.5" y="330.7" width="2.5" height="1.4" fill="#a4a6a8"/>
</g>
<g fill="#b8b8b8">
<rect x="407.8" y="302.8" width="1.6" height="7.2"/><rect x="412" y="302.8" width="1.6" height="7.2"/><rect x="416.2" y="302.8" width="1.6" height="7.2"/><rect x="429.4" y="302.8" width="1.6" height="7.2"/><rect x="434.2" y="302.8" width="1.6" height="7.2"/><rect x="408.0" y="353.2" width="2" height="5"/><rect x="412.4" y="353.2" width="2" height="5"/><rect x="416.8" y="353.2" width="2" height="5"/><rect x="421.2" y="353.2" width="2" height="5"/><rect x="425.6" y="353.2" width="2" height="5"/><rect x="430.0" y="353.2" width="2" height="5"/><rect x="434.4" y="353.2" width="2" height="5"/><rect x="393" y="318.8" width="6.7" height="1.9"/><rect x="393" y="322.4" width="6.7" height="1.9"/><rect x="393" y="326.1" width="6.7" height="1.9"/><rect x="393" y="329.8" width="6.7" height="1.9"/><rect x="393" y="333.4" width="6.7" height="1.9"/><rect x="393" y="337.1" width="6.7" height="1.9"/><rect x="393" y="340.7" width="6.7" height="1.9"/><rect x="446.6" y="318.8" width="6.7" height="1.9"/><rect x="446.6" y="322.4" width="6.7" height="1.9"/><rect x="446.6" y="326.1" width="6.7" height="1.9"/><rect x="446.6" y="329.8" width="6.7" height="1.9"/><rect x="446.6" y="333.4" width="6.7" height="1.9"/><rect x="446.6" y="337.1" width="6.7" height="1.9"/><rect x="446.6" y="340.7" width="6.7" height="1.9"/>
</g>
</g>

<g>
<rect x="287.9" y="299" width="2.2" height="21" fill="#f2c21c"/><rect x="282.0" y="319" width="14" height="2.2" rx="1" fill="#f2c21c"/>
<rect x="282" y="281" width="14" height="19.5" rx="1.5" fill="#f2c21c"/>
<rect x="283.3" y="282.3" width="11.4" height="17" fill="#e8781e"/>
<rect x="284.6" y="283.6" width="8.8" height="14.4" fill="#f4f4f4"/>
<circle cx="289" cy="286.5" r="1.4" fill="#333"/>
<rect x="287" y="288.5" width="4" height="6" fill="#555"/>

<rect x="346.5" y="296" width="2.2" height="13" fill="#f2c21c"/>
<rect x="366.5" y="296" width="2.2" height="13" fill="#f2c21c"/>
<rect x="343" y="308" width="29" height="2.3" rx="1" fill="#f2c21c"/>
<rect x="344" y="272" width="27" height="25" rx="2.5" fill="#e8a838" stroke="#1c1c1c" stroke-width="0.5"/>
<rect x="345.3" y="273.3" width="24.4" height="22.4" rx="1.5" fill="#e8781e"/>
<rect x="346.4" y="274.4" width="22.2" height="20.2" fill="#f6f2ee"/>
<path d="M349.6 276.8 L352.2 281.4 H347 Z" fill="none" stroke="#d04848" stroke-width="0.8"/>
<path d="M356.2 278.6 L357.3 275.8 Q357.6 275.3 358.2 275.3 H361.6 Q362.2 275.3 362.5 275.8 L363.6 278.6 Q364.8 278.9 364.8 280 V282.2 H363.4 V283 H361.6 V282.2 H358.2 V283 H356.4 V282.2 H355 V280 Q355 278.9 356.2 278.6 Z" fill="#111"/>
<path d="M366 278.5 h1.6 v2.6 h-1.6 Z M367.6 279.2 h1 M367.6 280.4 h1" fill="#333" stroke="#333" stroke-width="0.4"/>
<rect x="348" y="285" width="20" height="2.7" fill="#e8601e"/>
<rect x="348" y="287.7" width="20" height="5.5" fill="#2a1208"/>
<rect x="351" y="289" width="14" height="0.8" fill="#e8e0d8"/>
<rect x="353" y="290.8" width="10" height="0.8" fill="#e8e0d8"/>

<rect x="309.8" y="329" width="2.4" height="23" fill="#f2c21c"/>
<rect x="351.8" y="329" width="2.4" height="23" fill="#f2c21c"/>
<rect x="307" y="350.5" width="8" height="2" fill="#f2c21c"/>
<rect x="349" y="350.5" width="8" height="2" fill="#f2c21c"/>
<rect x="301" y="317.5" width="63" height="12.5" rx="1.5" fill="#f2c21c"/>
<rect x="302.5" y="319" width="60" height="9.5" fill="#e8781e"/>
<rect x="304" y="320.3" width="57" height="7" fill="#f6f6f6"/>
<rect x="305" y="321" width="12" height="5" fill="#b02020"/>
<text x="320" y="324.5" font-size="4.2" font-weight="bold" fill="#111" textLength="22" lengthAdjust="spacingAndGlyphs">Road Closed</text>

<rect x="379.9" y="328" width="2.2" height="24" fill="#f2c21c"/><rect x="373.5" y="351" width="15" height="2.2" rx="1" fill="#f2c21c"/>
<path d="M377.51 313.70 L384.49 313.70 L389.30 318.51 L389.30 325.49 L384.49 330.30 L377.51 330.30 L372.70 325.49 L372.70 318.51Z" fill="#f0c028" stroke="#1c1c1c" stroke-width="0.5" stroke-linejoin="round"/>
<path d="M378.10 315.10 L383.90 315.10 L387.90 319.10 L387.90 324.90 L383.90 328.90 L378.10 328.90 L374.10 324.90 L374.10 319.10Z" fill="#e8883a" stroke-linejoin="round"/>
<path d="M378.48 316.00 L383.52 316.00 L387.00 319.48 L387.00 324.52 L383.52 328.00 L378.48 328.00 L375.00 324.52 L375.00 319.48Z" fill="#f8f4f2" stroke-linejoin="round"/>
<circle cx="381" cy="320" r="2.6" fill="none" stroke="#c02828" stroke-width="1"/>
<path d="M379.4 321.8 L382.6 318.2" stroke="#3a0a0a" stroke-width="1"/>
<rect x="376.5" y="324" width="9" height="1.3" fill="#555"/>
<rect x="378.5" y="325.6" width="5" height="1" fill="#777"/>

<rect x="422.4" y="309" width="2.2" height="26" fill="#f2c21c"/><rect x="415.5" y="334" width="16" height="2.2" rx="1" fill="#f2c21c"/>
<path d="M423.3 294.3 L432.2 310.8 H414.4 Z" fill="#f2c21c" stroke="#1c1c1c" stroke-width="0.6" stroke-linejoin="round"/>
<path d="M423.3 297.2 L429.8 309.4 H416.8 Z" fill="#e8781e"/>
<path d="M423.3 299.8 L427.9 308.3 H418.7 Z" fill="#3a2410"/>
<path d="M423.3 303.2 L425.6 307.6 H421 Z" fill="#e8c020"/>

<rect x="459.4" y="298" width="2.2" height="24.5" fill="#f2c21c"/><rect x="453.0" y="321.5" width="15" height="2.2" rx="1" fill="#f2c21c"/>
<rect x="452.5" y="283" width="16.5" height="16.5" rx="1.5" fill="#f2c21c"/>
<rect x="453.8" y="284.3" width="13.9" height="13.9" fill="#e8781e"/>
<rect x="455.2" y="285.7" width="11.1" height="11.1" fill="#f6f6f4"/>
<circle cx="460.7" cy="288.6" r="1.6" fill="#1e6a36"/><path d="M456.6 295.2 Q457.5 291 460.7 290.8 Q463.9 291 464.8 295.2 Z" fill="#1e6a36"/>

<rect x="481.4" y="327" width="2.2" height="25" fill="#f2c21c"/><rect x="475.0" y="351" width="15" height="2.2" rx="1" fill="#f2c21c"/>
<circle cx="482.5" cy="320" r="8.8" fill="#f2c21c"/>
<circle cx="482.5" cy="320" r="7.4" fill="#e04a1e"/>
<circle cx="482.5" cy="320" r="5.3" fill="#f6f4f4"/>
<path d="M478.5 323.5 L481 317 L483 323.5 M482 323.5 L484.5 317 L486.5 323.5" stroke="#222" stroke-width="1.3" fill="none"/>
<rect x="477" y="306.5" width="6" height="3" rx="1" fill="#f2c21c"/>

<circle cx="313" cy="274.5" r="5.2" fill="#25272a"/>
<text x="310" y="277.8" font-size="8.5" font-weight="bold" fill="#f2c21c">P</text>
<circle cx="390.5" cy="290" r="5.6" fill="#25272a"/>
<text x="387" y="293.3" font-size="8.5" font-weight="bold" fill="#f2c21c">H</text>
<circle cx="475.5" cy="281" r="4.6" fill="#2a2d30" stroke="#f2c21c" stroke-width="1.5"/>
<path d="M472.5 284 L478.5 278" stroke="#f2c21c" stroke-width="1.4"/>
<path d="M390.5 305.5 L388.3 302 A2.4 2.4 0 1 1 392.7 302 Z" fill="none" stroke="#7a7d80" stroke-width="0.8"/>
<g stroke="#9a9da0" stroke-width="0.9" fill="none">
<path d="M447.5 270 h2 l2 6 h6 l1.5 -4 h-9"/>
<circle cx="452" cy="278" r="0.8"/><circle cx="456.5" cy="278" r="0.8"/>
<path d="M315 297 v8 M314 297 v2.5 a1 1 0 0 0 2 0 v-2.5 M318.5 297 v8 M318.5 297 q1.6 1.5 0 4"/>
</g>
</g>

<g transform="translate(166,298) rotate(-90)"><path d="M0.65 0.65 L2.67 0.65 L3.54 1.73 L3.54 3.87 L2.67 4.95 L0.65 4.95 L0.65 0.65 M11.45 0.65 L11.45 4.95 M22.24 0.65 L19.35 0.65 L19.35 4.95 L22.24 4.95 M19.35 2.80 L21.66 2.80 M41.73 0.65 L38.84 0.65 L38.84 4.95 L41.73 4.95 M49.63 4.95 L49.63 1.29 L50.06 0.65 L52.09 0.65 L52.52 1.29 L52.52 4.95 M49.63 3.02 L52.52 3.02 M63.31 0.65 L60.42 0.65 L60.42 2.80 L63.31 2.80 L63.31 4.95 L60.42 4.95 M71.21 0.65 L74.11 0.65 M72.66 0.65 L72.66 4.95 M90.70 4.95 L90.70 0.65 L92.15 2.58 L93.59 0.65 L93.59 4.95 M101.49 0.65 L104.39 0.65 L104.39 4.95 L101.49 4.95 L101.49 0.65 M112.29 0.65 L114.31 0.65 L115.18 1.73 L115.18 3.87 L114.31 4.95 L112.29 4.95 L112.29 0.65 M125.97 0.65 L123.08 0.65 L123.08 4.95 L125.97 4.95 M123.08 2.80 L125.39 2.80 M133.87 0.65 L133.87 4.95 L136.76 4.95" fill="none" stroke="#25282b" stroke-width="1.3" stroke-linecap="square" stroke-linejoin="miter" stroke-miterlimit="2"/></g>
<rect x="167.6" y="135" width="1.4" height="20" fill="#34373a"/>
<rect x="167.6" y="303" width="1.4" height="19.5" fill="#34373a"/>
<path d="M166.64 345.37 L167.28 344.00 L167.28 351.60 M172.11 346.13 L172.11 346.28 M172.11 350.08 L172.11 350.23 M180.76 344.00 L176.22 344.00 L176.22 351.60 L180.76 351.60 L180.76 347.80 L176.22 347.80 M184.86 344.00 L184.86 348.71 L189.41 348.71 M188.14 346.28 L188.14 351.60" fill="none" stroke="#1e2124" stroke-width="2.8" stroke-linecap="square" stroke-linejoin="miter" stroke-miterlimit="2"/>
<path d="M167.06 358.88 L167.77 357.40 L167.77 365.60 M172.77 357.40 L172.77 362.48 L177.57 362.48 M176.23 359.86 L176.23 365.60 M181.77 365.60 L181.77 357.40 L186.58 357.40 L186.58 361.91 L181.77 361.91 M195.59 357.40 L190.78 357.40 L190.78 365.60 L195.59 365.60 M204.60 357.40 L199.79 357.40 L199.79 361.50 L204.60 361.50 L204.60 365.60 L199.79 365.60" fill="none" stroke="#1e2124" stroke-width="2.8" stroke-linecap="square" stroke-linejoin="miter" stroke-miterlimit="2"/>
<g fill="none" stroke="#e6e6e6" stroke-width="1.1">
<path d="M180.8 91.3 L187.6 95.2 V103.3 L180.8 107.2 L174 103.3 V95.2 Z"/>
<path d="M176.2 97.4 L180.8 94.7 L185.4 97.4 L180.8 100.1 Z" stroke-width="1"/>
<path d="M176.4 105 V100.6 M176.4 101.4 Q177.5 100.2 178.6 101.4 V105 M178.6 101.4 Q179.7 100.2 180.6 101.4 V104.6 M185.6 101.2 V100.4 H182.3 V105 H185.6 V102.6 H184" stroke-width="1"/>
</g>
<g fill="#e6e6e6">
<path d="M163 92 L173 98 L173 100 L165 96 Z"/>
<path d="M164 96 L173 101 L173 103 L166 100 Z"/>
<path d="M166 100 L173 104 L173 105.5 L168 103.5 Z"/>
<path d="M198.6 92 L188.6 98 L188.6 100 L196.6 96 Z"/>
<path d="M197.6 96 L188.6 101 L188.6 103 L195.6 100 Z"/>
<path d="M195.6 100 L188.6 104 L188.6 105.5 L193.6 103.5 Z"/>
</g>
<circle cx="202" cy="89.5" r="1.4" fill="#888"/>
<path d="M165.50 113.10 L165.50 110.50 L166.73 111.67 L167.96 110.50 L167.96 113.10 M172.71 110.50 L170.26 110.50 L170.26 113.10 L172.71 113.10 M170.26 111.80 L172.22 111.80 M175.01 113.10 L175.01 110.50 L177.47 113.10 L177.47 110.50 M182.23 110.50 L179.77 110.50 L179.77 113.10 L182.23 113.10 L182.23 111.80 L181.00 111.80 M186.99 110.50 L184.53 110.50 L184.53 113.10 L186.99 113.10 L186.99 111.80 L185.76 111.80 M189.29 113.10 L189.29 110.89 L189.65 110.50 L191.37 110.50 L191.74 110.89 L191.74 113.10 M189.29 111.93 L191.74 111.93 M194.04 110.50 L196.50 110.50 L196.50 113.10 L194.04 113.10 L194.04 110.50" fill="none" stroke="#e6e6e6" stroke-width="1.0" stroke-linecap="square" stroke-linejoin="miter" stroke-miterlimit="2"/>
</svg>
</body></html>
